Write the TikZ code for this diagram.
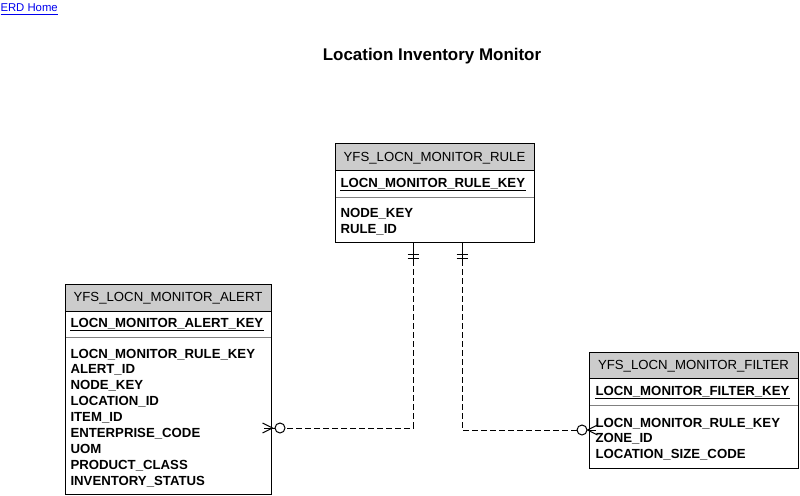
\documentclass[tikz,border=0pt]{standalone}
\usepackage{fontspec}
\setmainfont{Liberation Sans}
\usepackage{tikz}
\definecolor{hdrgray}{RGB}{204,204,204}
\definecolor{linkblue}{RGB}{0,0,238}

\begin{document}
\begin{tikzpicture}[x=0.75pt, y=-0.75pt, line width=0.75pt,
    hdr/.style={anchor=base, inner sep=0, font=\fontsize{9.9}{11}\selectfont},
    attr/.style={anchor=base west, inner sep=0, font=\fontsize{9.9}{11}\selectfont\bfseries},
    rel/.style={dash pattern=on 4.5pt off 2.25pt},
    opt/.style={circle, draw, fill=white, minimum size=7.5pt, inner sep=0}]
  \useasboundingbox (0,0) rectangle (800,496);

  % link and title
  \node[anchor=base west, inner sep=0, text=linkblue, font=\fontsize{8.5}{10}\selectfont] (home) at (0,12) {\underline{ERD Home}};
  \node[anchor=base, inner sep=0, font=\fontsize{12.7}{14}\selectfont\bfseries] (title) at (432,60) {Location Inventory Monitor};

  % Rule
  \begin{scope}[shift={(335,143)}]
    \fill[hdrgray] (0,0) rectangle (199,27);
    \draw (0,27) -- (199,27);
    \draw[gray] (0,54) -- (199,54);
    \draw (0,0) rectangle (199,99);
    \node[hdr] (rulehdr) at (99.5,18) {YFS\_LOCN\_MONITOR\_RULE};
    \node[attr] (rulepk) at (5,44) {LOCN\_MONITOR\_RULE\_KEY};
    \draw ([yshift=-2.25pt]rulepk.base west) -- ([yshift=-2.25pt]rulepk.base east);
    \foreach \a [count=\i from 0] in {NODE\_KEY,RULE\_ID} {
        \node[attr] (ruleattr\i) at (5,74.5+15.9*\i) {\a};
      }
  \end{scope}

  % Alert
  \begin{scope}[shift={(65,284)}]
    \fill[hdrgray] (0,0) rectangle (206,27);
    \draw (0,27) -- (206,27);
    \draw[gray] (0,53) -- (206,53);
    \draw (0,0) rectangle (206,210);
    \node[hdr] (alerthdr) at (103,17) {YFS\_LOCN\_MONITOR\_ALERT};
    \node[attr] (alertpk) at (5,43) {LOCN\_MONITOR\_ALERT\_KEY};
    \draw ([yshift=-2.25pt]alertpk.base west) -- ([yshift=-2.25pt]alertpk.base east);
    \foreach \a [count=\i from 0] in {LOCN\_MONITOR\_RULE\_KEY,ALERT\_ID,NODE\_KEY,LOCATION\_ID,ITEM\_ID,ENTERPRISE\_CODE,UOM,PRODUCT\_CLASS,INVENTORY\_STATUS} {
        \node[attr] (alertattr\i) at (5,74+15.9*\i) {\a};
      }
  \end{scope}

  % Filter
  \begin{scope}[shift={(589,352)}]
    \fill[hdrgray] (0,0) rectangle (209,26);
    \draw (0,26) -- (209,26);
    \draw[gray] (0,53) -- (209,53);
    \draw (0,0) rectangle (209,116);
    \node[hdr] (filterhdr) at (104.5,17) {YFS\_LOCN\_MONITOR\_FILTER};
    \node[attr] (filterpk) at (6,43) {LOCN\_MONITOR\_FILTER\_KEY};
    \draw ([yshift=-2.25pt]filterpk.base west) -- ([yshift=-2.25pt]filterpk.base east);
    \foreach \a [count=\i from 0] in {LOCN\_MONITOR\_RULE\_KEY,ZONE\_ID,LOCATION\_SIZE\_CODE} {
        \node[attr] (filterattr\i) at (6,75+15.8*\i) {\a};
      }
  \end{scope}

  % relationships
  \coordinate (rulefk1) at (413,242);
  \coordinate (rulefk2) at (462,242);
  \node[opt] (alertopt) at (280,428) {};
  \node[opt] (filteropt) at (582,430) {};

  \draw (rulefk1) -- ++(0,18) coordinate (rulefk1d);
  \draw (rulefk1) ++(-5.5,12) -- ++(11,0);
  \draw (rulefk1) ++(-5.5,16) -- ++(11,0);
  \draw[rel] (rulefk1d) |- (alertopt.east);
  \draw (alertopt.west) -- ++(-11,0);
  \draw (alertopt.west) ++(-12,-5) -- ++(10,5) -- ++(-10,5);

  \draw (rulefk2) -- ++(0,18) coordinate (rulefk2d);
  \draw (rulefk2) ++(-5.5,12) -- ++(11,0);
  \draw (rulefk2) ++(-5.5,16) -- ++(11,0);
  \draw[rel] (rulefk2d) |- (filteropt.west);
  \draw (filteropt.east) -- ++(8,0);
  \draw (filteropt.east) ++(10,-5) -- ++(-10,5) -- ++(10,5);
\end{tikzpicture}
\end{document}
